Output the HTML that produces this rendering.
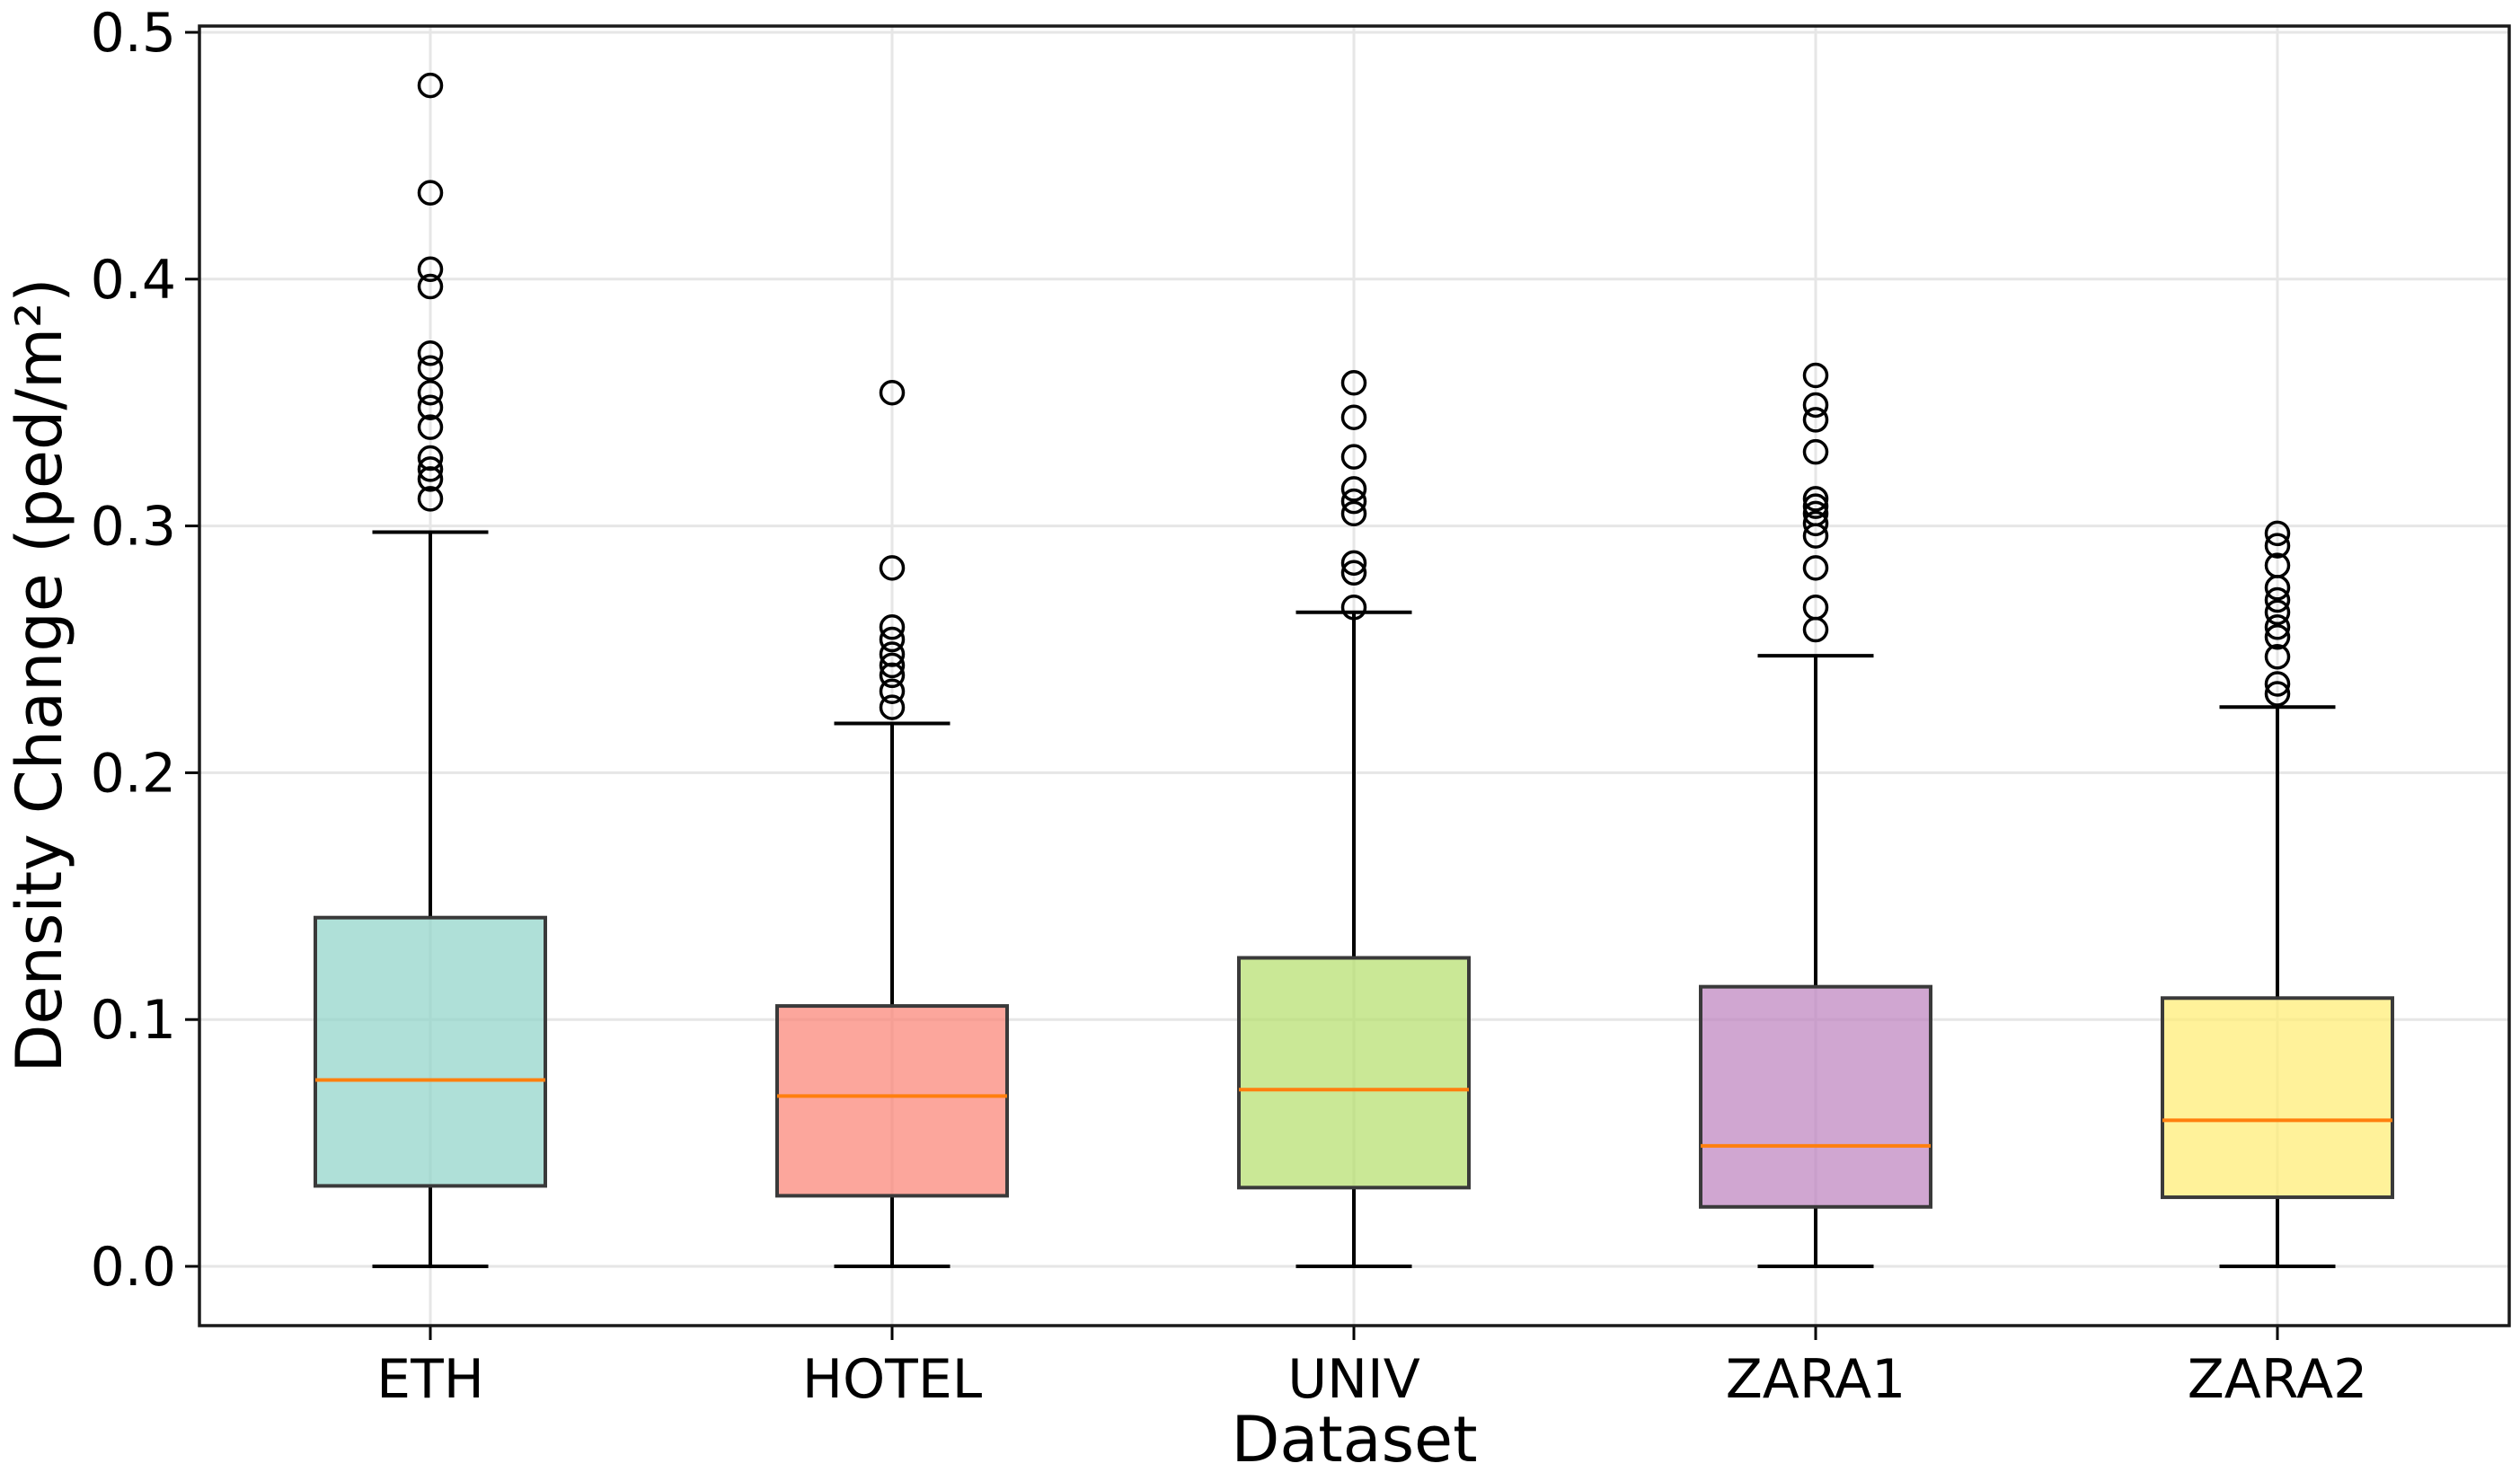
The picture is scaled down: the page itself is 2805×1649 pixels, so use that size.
<!DOCTYPE html>
<html><head><meta charset="utf-8"><style>
html,body{margin:0;padding:0;background:#fff;}
svg{display:block;font-family:"DejaVu Sans","Liberation Sans",sans-serif;}
</style></head><body>
<svg id="chart" width="2805" height="1649" viewBox="0 0 2805 1649" xmlns="http://www.w3.org/2000/svg"></svg>
<script>
const categories = ["ETH","HOTEL","UNIV","ZARA1","ZARA2"];
const q1 = [0.0326,0.0286,0.0319,0.0241,0.0280];
const medians = [0.0755,0.0690,0.0716,0.0488,0.0592];
const q3 = [0.1413,0.1055,0.1250,0.1133,0.1087];
const whiskLo = [0,0,0,0,0];
const whiskHi = [0.2975,0.2200,0.2650,0.2474,0.2266];
const outliersETH = [0.4785,0.435,0.404,0.397,0.370,0.364,0.354,0.348,0.340,0.3275,0.323,0.319,0.311];
const outliersHOTEL = [0.354,0.283,0.259,0.254,0.248,0.2435,0.2395,0.233,0.2265];
const outliersUNIV = [0.358,0.344,0.328,0.315,0.310,0.305,0.285,0.281,0.267];
const outliersZARA1 = [0.361,0.349,0.343,0.330,0.311,0.308,0.305,0.301,0.296,0.283,0.267,0.258];
const outliersZARA2 = [0.297,0.292,0.284,0.275,0.270,0.265,0.259,0.255,0.247,0.236,0.232];
const yTicks = [0.0,0.1,0.2,0.3,0.4,0.5];
const yTickLabels = ["0.0","0.1","0.2","0.3","0.4","0.5"];
const colors = ["#8dd3c7","#fb8072","#b3de69","#bc80bd","#ffed6f"];

const NS="http://www.w3.org/2000/svg";
const svg=document.getElementById('chart');
const L=222,R=2793,T=29,B=1476;
const y=v=>1410-2748*v;
const x=i=>479+i*514;
const BW=256, CW=129;
function mk(tag,attrs){const e=document.createElementNS(NS,tag);for(const k in attrs)e.setAttribute(k,attrs[k]);svg.appendChild(e);return e;}

yTicks.forEach((t,i)=>{
  const g=mk('line',{x1:L,x2:R,y1:y(t),y2:y(t),stroke:'#e6e6e6','stroke-width':3});
  
  
});
categories.forEach((c,i)=>{
  const g=mk('line',{x1:x(i),x2:x(i),y1:T,y2:B,stroke:'#e6e6e6','stroke-width':3});
  
  
});
const outs=[outliersETH,outliersHOTEL,outliersUNIV,outliersZARA1,outliersZARA2];
categories.forEach((c,i)=>{
  const cx=x(i);
  const w1=mk('line',{x1:cx,x2:cx,y1:y(q3[i]),y2:y(whiskHi[i]),stroke:'#000','stroke-width':4});
  
  
  const w2=mk('line',{x1:cx,x2:cx,y1:y(q1[i]),y2:y(whiskLo[i]),stroke:'#000','stroke-width':4});
  
  
  const c1=mk('line',{x1:cx-CW/2,x2:cx+CW/2,y1:y(whiskHi[i]),y2:y(whiskHi[i]),stroke:'#000','stroke-width':4});
  
  
  const c2=mk('line',{x1:cx-CW/2,x2:cx+CW/2,y1:y(whiskLo[i]),y2:y(whiskLo[i]),stroke:'#000','stroke-width':4});
  
  
  const b=mk('rect',{x:cx-BW/2,y:y(q3[i]),width:BW,height:y(q1[i])-y(q3[i]),fill:colors[i],'fill-opacity':0.7,stroke:'#3a3a3a','stroke-width':4});
  
  
  const m=mk('line',{x1:cx-BW/2,x2:cx+BW/2,y1:y(medians[i]),y2:y(medians[i]),stroke:'#ff7f0e','stroke-width':4});
  
  
  outs[i].forEach(v=>{
    const o=mk('circle',{cx:cx,cy:y(v),r:12.5,fill:'none',stroke:'#000','stroke-width':3.5});
    
    
  });
  const tk=mk('line',{x1:cx,x2:cx,y1:B,y2:B+16,stroke:'#000','stroke-width':3});
  
  
  const tl=mk('text',{x:cx,y:B+80,'text-anchor':'middle','font-size':60,fill:'#000'});
  tl.textContent=c;
  
  
});
yTicks.forEach((t,i)=>{
  const tk=mk('line',{x1:L-16,x2:L,y1:y(t),y2:y(t),stroke:'#000','stroke-width':3});
  
  
  const tl=mk('text',{x:L-26,y:y(t)+21,'text-anchor':'end','font-size':60,fill:'#000'});
  tl.textContent=yTickLabels[i];
  
  
});
const frame=mk('rect',{x:L,y:T,width:R-L,height:B-T,fill:'none',stroke:'#1a1a1a','stroke-width':3.5});


const xl=mk('text',{x:(L+R)/2,y:1627,'text-anchor':'middle','font-size':70,fill:'#000'});
xl.textContent='Dataset';


const yl=mk('text',{x:0,y:0,'text-anchor':'middle','font-size':70,fill:'#000',transform:'translate(68,752) rotate(-90)'});
yl.textContent='Density Change (ped/m²)';


</script>
</body></html>
